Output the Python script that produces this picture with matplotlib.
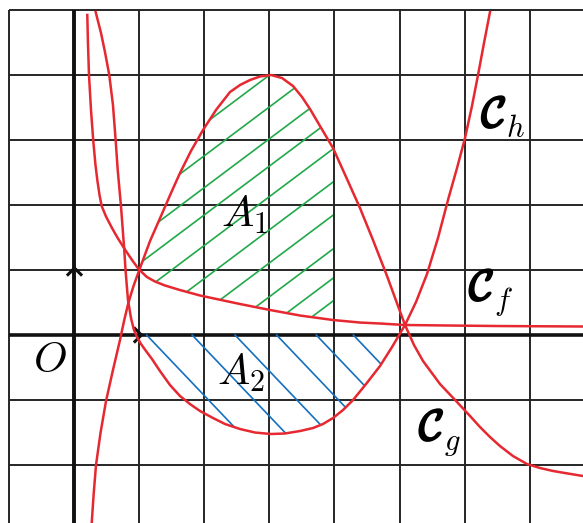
import numpy as np
import matplotlib
matplotlib.use('Agg')
import matplotlib.pyplot as plt
from matplotlib.patches import Polygon
import matplotlib.patheffects as pe

plt.rcParams['mathtext.fontset'] = 'cm'

# curve C_f
f_x = [0.197, 0.208, 0.223, 0.254, 0.289, 0.323, 0.351, 0.385, 0.418, 0.485, 0.577, 0.669, 0.777, 0.885,
       0.992, 1.115, 1.238, 1.392, 1.623, 1.931, 2.546, 3.008, 3.469, 3.977, 4.392, 4.70, 5.085, 5.777,
       6.546, 7.823]
f_y = [4.923, 4.462, 4.0, 3.462, 2.985, 2.615, 2.385, 2.154, 1.985, 1.823, 1.646, 1.485, 1.315, 1.154,
       1.008, 0.892, 0.823, 0.762, 0.692, 0.608, 0.477, 0.385, 0.300, 0.231, 0.192, 0.177, 0.154, 0.146,
       0.138, 0.131]

# curve C_g
g_x = [0.265, 0.295, 0.331, 0.40, 0.485, 0.592, 0.70, 0.762, 0.828, 0.908, 0.997, 1.162, 1.351, 1.485,
       1.623, 1.792, 1.977, 2.177, 2.392, 2.546, 2.70, 2.854, 3.023, 3.192, 3.362, 3.50, 3.623, 3.777,
       3.977, 4.192, 4.392, 4.592, 4.808, 4.946, 5.085, 5.223, 5.362, 5.623, 5.885, 6.085, 6.238, 6.392,
       6.546, 6.746, 6.962, 7.162, 7.362, 7.592, 7.823]
g_y = [-2.892, -2.446, -2.0, -1.508, -1.015, -0.538, -0.077, 0.215, 0.492, 0.754, 1.0, 1.446, 1.877, 2.185,
       2.492, 2.831, 3.154, 3.462, 3.738, 3.846, 3.923, 3.977, 4.0, 3.954, 3.831, 3.662, 3.477, 3.215,
       2.877, 2.40, 1.954, 1.462, 0.908, 0.531, 0.154, -0.154, -0.40, -0.754, -1.031, -1.246, -1.415, -1.569,
       -1.708, -1.862, -1.985, -2.046, -2.092, -2.131, -2.169]

# curve C_h
h_x = [0.326, 0.408, 0.469, 0.535, 0.592, 0.634, 0.665, 0.715, 0.766, 0.785, 0.823, 0.869, 0.915, 0.962,
       1.023, 1.10, 1.192, 1.315, 1.469, 1.623, 1.777, 1.931, 2.131, 2.315, 2.546, 2.777, 3.023, 3.238,
       3.469, 3.669, 3.823, 3.977, 4.131, 4.285, 4.485, 4.70, 4.885, 5.085, 5.254, 5.423, 5.592, 5.746,
       5.885, 6.008, 6.115, 6.208, 6.30, 6.392]
h_y = [4.969, 4.646, 4.354, 4.0, 3.538, 2.985, 2.538, 1.985, 1.308, 1.0, 0.538, 0.262, 0.077, -0.031,
       -0.138, -0.246, -0.369, -0.554, -0.769, -0.938, -1.062, -1.169, -1.277, -1.369, -1.446, -1.50, -1.523, -1.515,
       -1.477, -1.431, -1.369, -1.277, -1.154, -1.0, -0.754, -0.477, -0.185, 0.154, 0.508, 0.938, 1.492, 2.077,
       2.569, 3.031, 3.523, 4.0, 4.492, 4.969]

# hatching: green lines (value at x=4), blue lines (start on the x axis)
green_at4 = [4.75, 4.26, 3.77, 3.35, 2.88, 2.37, 1.86, 1.34, 0.89, 0.54]
blue_x0 = [1.11, 1.81, 2.47, 3.11, 3.72, 4.29]

red = '#e62830'
green = '#22a84a'
blue = '#1470bf'
gridc = '#262626'

fig = plt.figure(figsize=(5.83, 5.23), dpi=100)
ax = fig.add_axes([0, 0, 1, 1])
ax.set_xlim(-1.146, 7.823)
ax.set_ylim(-2.892, 5.154)
ax.axis('off')

# grid
for gx in range(-1, 8):
    ax.plot([gx, gx], [-2.892, 5], color=gridc, lw=1.4, zorder=1, solid_capstyle='butt')
for gy in range(-2, 6):
    ax.plot([-1, 7.823], [gy, gy], color=gridc, lw=1.4, zorder=1, solid_capstyle='butt')

# axes and unit marks
ax.plot([-1, 7.823], [0, 0], color='#111111', lw=2.6, zorder=2, solid_capstyle='butt')
ax.plot([0, 0], [-2.892, 5], color='#111111', lw=2.8, zorder=2, solid_capstyle='butt')
ax.plot([-0.1, 0, 0.1], [0.93, 1.03, 0.93], color='#111111', lw=2.2, zorder=2)
ax.plot([0.93, 1.03, 0.93], [0.1, 0, -0.1], color='#111111', lw=2.2, zorder=2)

# region A1 between C_g and C_f, 1 <= x <= 4
up = [(x, y) for x, y in zip(g_x, g_y) if 0.99 <= x <= 3.99]
lo = [(x, y) for x, y in zip(f_x, f_y) if 0.99 <= x <= 3.99]
a1 = Polygon(up + lo[::-1], closed=True, facecolor='none', edgecolor='none')
ax.add_patch(a1)
xs = np.array([0.5, 4.5])
for c in green_at4:
    ln, = ax.plot(xs, c + 0.75 * (xs - 4), color=green, lw=1.2, zorder=3)
    ln.set_clip_path(a1)

# region A2 between the x axis and C_h
bot = [(x, y) for x, y in zip(h_x, h_y) if 0.9 <= x <= 5.1]
a2 = Polygon(bot, closed=True, facecolor='none', edgecolor='none')
ax.add_patch(a2)
for x0 in blue_x0:
    ln, = ax.plot([x0, x0 + 2.5], [0, -2.5 * 1.05], color=blue, lw=1.2, zorder=3)
    ln.set_clip_path(a2)

# curves
for cx, cy in [(f_x, f_y), (g_x, g_y), (h_x, h_y)]:
    ax.plot(cx, cy, color=red, lw=1.8, zorder=4, solid_joinstyle='round')

# labels
ax.text(-0.377, -0.385, '$O$', fontsize=31, ha='center', va='center', zorder=5)
ax.text(2.26, 1.666, '$A_1$', fontsize=31, ha='left', va='baseline', zorder=5)
ax.text(2.20, -0.769, '$A_2$', fontsize=31, ha='left', va='baseline', zorder=5)

bold = [pe.withStroke(linewidth=1.6, foreground='black')]
for (lx, ly), sub in [((6.26, 3.2), 'h'), ((6.07, 0.538), 'f'), ((5.30, -1.615), 'g')]:
    ax.text(lx, ly, r'$\mathcal{C}$', fontsize=31, ha='left', va='baseline', zorder=5, path_effects=bold)
    ax.text(lx + 0.38, ly - 0.16, '$' + sub + '$', fontsize=22, ha='left', va='baseline', zorder=5)

fig.savefig('out.png', dpi=100)
